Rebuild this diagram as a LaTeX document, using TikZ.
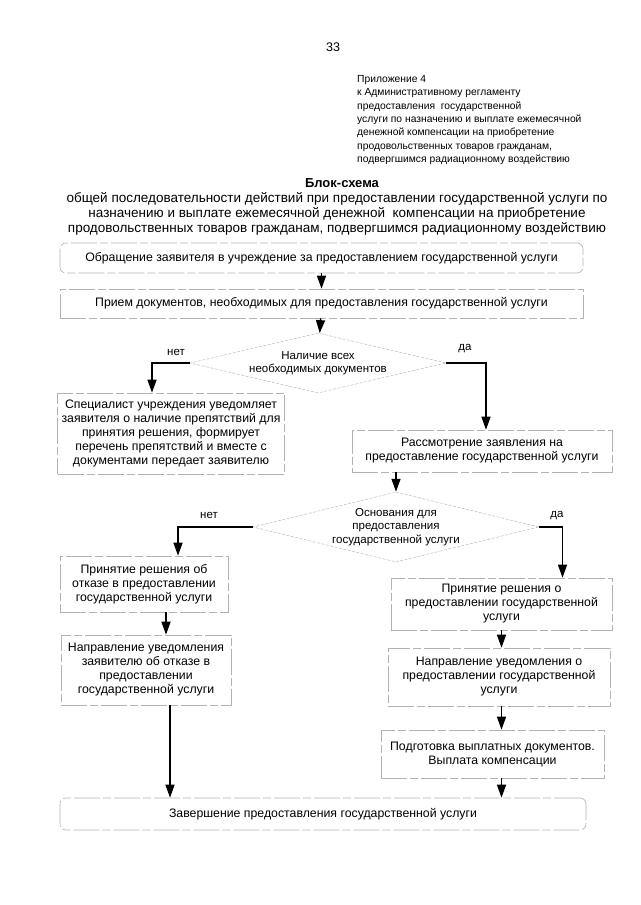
\documentclass[tikz,border=0pt]{standalone}
\usepackage{fontspec}
\setmainfont{Liberation Sans}
\usepackage{tikz}
\usetikzlibrary{arrows.meta}
\usetikzlibrary{shapes}

\newcommand{\flowfont}{\fontsize{12.3}{14}\selectfont}
\newcommand{\askfont}{\fontsize{11.5}{13.2}\selectfont}

\begin{document}
\begin{tikzpicture}[x=1pt,y=-1pt]
          \useasboundingbox (0,0) rectangle (640,905);
          \node (pg) at (333,47) {\fontsize{12.5}{15}\selectfont 33};
          \node[anchor=north west,align=left,inner sep=0pt,font=\fontsize{10.3}{13.4}\selectfont] (appx) at (357,75)
            {Приложение 4\\к Административному регламенту\\предоставления\ \ государственной\\услуги по назначению и выплате ежемесячной\\денежной компенсации на приобретение\\продовольственных товаров гражданам,\\подвергшимся радиационному воздействию};
          \node[font=\fontsize{13}{15}\selectfont\bfseries] (ttl) at (342,183) {Блок-схема};
          \node[align=center,inner sep=0pt,font=\fontsize{13.5}{15}\selectfont] (sub) at (337,214)
            {общей последовательности действий при предоставлении государственной услуги по\\назначению и выплате ежемесячной денежной\ \ компенсации на приобретение\\продовольственных товаров гражданам, подвергшимся радиационному воздействию};
          \begin{scope}[every node/.style={draw=gray!60,line width=0.6pt,dash pattern=on 26pt off 3pt on 8pt off 3pt,align=center,inner sep=0pt,font=\flowfont}]
            \node[rounded corners=6pt,minimum width=523pt,minimum height=30pt] (start) at (321.5,258) {Обращение заявителя в учреждение за предоставлением государственной услуги};
            \node[minimum width=523pt,minimum height=29pt] (recv) at (321.5,303.5) {Прием документов, необходимых для предоставления государственной услуги};
            \node[minimum width=227pt,minimum height=81pt] (notify) at (171,433.5) {Специалист учреждения уведомляет\\заявителя о наличие препятствий для\\принятия решения, формирует\\перечень препятствий и вместе с\\документами передает заявителю};
            \node[minimum width=260pt,minimum height=42pt] (review) at (482,451) {Рассмотрение заявления на\\предоставление государственной услуги};
            \node[minimum width=168pt,minimum height=56pt] (refuse) at (144,584) {Принятие решения об\\отказе в предоставлении\\государственной услуги};
            \node[minimum width=170pt,minimum height=70pt] (refmsg) at (146,670) {Направление уведомления\\заявителю об отказе в\\предоставлении\\государственной услуги};
            \node[minimum width=221pt,minimum height=52pt] (grant) at (501.5,604) {Принятие решения о\\предоставлении государственной\\услуги};
            \node[minimum width=222pt,minimum height=58pt] (grmsg) at (499,677) {Направление уведомления о\\предоставлении государственной\\услуги};
            \node[minimum width=223pt,minimum height=48pt] (pay) at (492.5,754) {Подготовка выплатных документов.\\Выплата компенсации};
            \node[rounded corners=6pt,minimum width=526pt,minimum height=32pt] (done) at (323,814) {Завершение предоставления государственной услуги};
          \end{scope}
          \begin{scope}[every node/.style={diamond,draw=gray!55,line width=0.5pt,dash pattern=on 3pt off 1.5pt,align=center,inner sep=0pt,font=\askfont}]
            \node[shape aspect=4.3,minimum width=256pt,minimum height=60pt] (docs) at (318,363) {Наличие всех\\необходимых документов};
            \node[shape aspect=4.1,minimum width=286pt,minimum height=70pt] (basis) at (396,527) {Основания для\\предоставления\\государственной услуги};
          \end{scope}
          \begin{scope}[every node/.style={font=\askfont}]
            \node (no1) at (176,352) {нет};
            \node (yes1) at (465,349) {да};
            \node (no2) at (209,515) {нет};
            \node (yes2) at (557,516) {да};
          \end{scope}
          \begin{scope}[every edge/.style={draw=black,line width=1.4pt,-{Triangle[length=13pt,width=9pt]}}]
            \path (start) edge (recv);
            \path (recv) edge (docs);
            \path (docs.west) edge[to path={-| (\tikztotarget)}] ([xshift=-19pt]notify.north);
            \path (docs.east) edge[to path={-| (\tikztotarget)}] ([xshift=4pt]review.north);
            \path (review.south -| basis.north) edge (basis.north);
            \path (basis.west) edge[to path={-| (\tikztotarget)}] ([xshift=34pt]refuse.north);
            \path (basis.east) edge[to path={-| (\tikztotarget)}] ([xshift=61pt]grant.north);
            \path ([xshift=22pt]refuse.south) edge ([xshift=22pt]refuse.south |- refmsg.north);
            \path ([xshift=24pt]refmsg.south) edge ([xshift=24pt]refmsg.south |- done.north);
            \path (grant.south) edge (grant.south |- grmsg.north);
            \path (grmsg.south -| grant.south) edge (pay.north -| grant.south);
            \path (pay.south -| grant.south) edge (done.north -| grant.south);
          \end{scope}
        \end{tikzpicture}
\end{document}
